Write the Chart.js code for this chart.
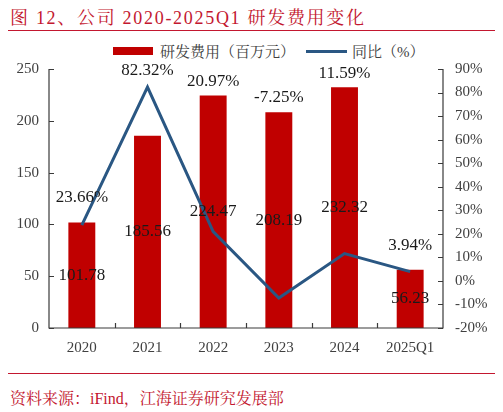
<!DOCTYPE html>
<html>
<head>
<meta charset="utf-8">
<script src="https://cdn.jsdelivr.net/npm/chart.js@4"></script>
<style>
  html, body { margin: 0; padding: 0; background: #fff; }
  body { width: 503px; height: 412px; position: relative; overflow: hidden;
         font-family: "Liberation Serif", "Noto Serif CJK SC", "Noto Sans CJK SC", serif; }
  .title { position: absolute; left: 10px; top: 3px; font-size: 18px; color: #c3172f; letter-spacing: 1.7px; white-space: nowrap; }
  .rule { position: absolute; left: 8px; width: 487px; height: 1px; background: #c3172f; }
  .source { position: absolute; left: 10px; top: 386px; font-size: 16px; color: #c3172f; white-space: nowrap; }
  .legend { position: absolute; top: 42px; left: 0; height: 20px; font-size: 15px; color: #404040; }
  .legend span { position: absolute; white-space: nowrap; }
  #wrap { position: absolute; left: 0; top: 40px; width: 503px; height: 322px; }
</style>
</head>
<body>
<div class="title">图 12、公司 2020-2025Q1 研发费用变化</div>
<div class="rule" style="top:30px"></div>
<div class="legend">
  <span style="left:113px;top:5px;width:40px;height:8px;background:#c00000"></span>
  <span style="left:160px;top:-2px">研发费用（百万元）</span>
  <span style="left:306px;top:8px;width:41px;height:3px;background:#2a5783"></span>
  <span style="left:352px;top:-2px">同比（%）</span>
</div>
<div id="wrap"><canvas id="rdChart"></canvas></div>
<div class="rule" style="top:373px"></div>
<div class="source">资料来源：iFind，江海证券研究发展部</div>

<script>
const years = ['2020', '2021', '2022', '2023', '2024', '2025Q1'];
const rdExpense = [101.78, 185.56, 224.47, 208.19, 232.32, 56.23]; // 百万元
const yoyGrowth = [23.66, 82.32, 20.97, -7.25, 11.59, 3.94];     // %
const leftTicks = [0, 50, 100, 150, 200, 250];
const rightTicks = [-20, -10, 0, 10, 20, 30, 40, 50, 60, 70, 80, 90];

// gap above the higher of bar top / line point for the % labels
const pctLabelGap = [25, 17, 14, 15, 14, 24];

const serif = '"Liberation Serif", "Times New Roman", serif';
const axisColor = '#3a3a3a';

// axis lines + inward tick marks + value labels
const decor = {
  id: 'decor',
  afterDatasetsDraw(chart) {
    const c = chart.ctx;
    const area = chart.chartArea;
    const x = chart.scales.x, y = chart.scales.y, y1 = chart.scales.y1;
    c.save();
    c.strokeStyle = axisColor;
    c.lineWidth = 1.2;
    c.beginPath();
    c.moveTo(area.left, area.top); c.lineTo(area.left, area.bottom);
    c.lineTo(area.right, area.bottom); c.lineTo(area.right, area.top);
    leftTicks.forEach(v => {
      const py = Math.round(y.getPixelForValue(v)) + 0.5;
      c.moveTo(area.left, py); c.lineTo(area.left + 5, py);
    });
    rightTicks.forEach(v => {
      const py = Math.round(y1.getPixelForValue(v)) + 0.5;
      c.moveTo(area.right, py); c.lineTo(area.right - 5, py);
    });
    for (let i = 1; i < years.length; i++) {
      const px = Math.round((x.getPixelForValue(i - 1) + x.getPixelForValue(i)) / 2) + 0.5;
      c.moveTo(px, area.bottom); c.lineTo(px, area.bottom - 5);
    }
    c.stroke();

    c.fillStyle = '#1a1a1a';
    c.font = '17px ' + serif;
    c.textAlign = 'center';
    c.textBaseline = 'middle';
    rdExpense.forEach((v, i) => {
      const px = x.getPixelForValue(i);
      const top = y.getPixelForValue(v);
      c.fillText(v.toFixed(2), px, (top + y.getPixelForValue(0)) / 2);
    });
    yoyGrowth.forEach((v, i) => {
      const px = x.getPixelForValue(i);
      const hi = Math.min(y.getPixelForValue(rdExpense[i]), y1.getPixelForValue(v));
      c.fillText(v.toFixed(2) + '%', px, hi - pctLabelGap[i]);
    });
    c.restore();
  }
};

new Chart(document.getElementById('rdChart'), {
  type: 'bar',
  data: {
    labels: years,
    datasets: [
      {
        type: 'line',
        label: '同比（%）',
        data: yoyGrowth,
        yAxisID: 'y1',
        borderColor: '#2a5783',
        borderWidth: 3,
        pointRadius: 0,
        tension: 0,
        order: 0
      },
      {
        type: 'bar',
        label: '研发费用（百万元）',
        data: rdExpense,
        yAxisID: 'y',
        backgroundColor: '#c00000',
        barPercentage: 0.41,
        categoryPercentage: 1,
        order: 1
      }
    ]
  },
  options: {
    responsive: true,
    maintainAspectRatio: false,
    animation: false,
    layout: { padding: { top: 29, bottom: 0, left: 0, right: 0 } },
    plugins: { legend: { display: false }, tooltip: { enabled: false } },
    scales: {
      x: {
        grid: { display: false, drawTicks: false },
        border: { display: false },
        ticks: { color: '#404040', font: { family: serif, size: 15 }, padding: 11, maxRotation: 0 },
        afterFit(s) { s.height = 34; }
      },
      y: {
        position: 'left',
        min: 0, max: 250,
        grid: { display: false, drawTicks: false },
        border: { display: false },
        ticks: { stepSize: 50, color: '#404040', font: { family: serif, size: 15 }, padding: 10 },
        afterFit(s) { s.width = 49; }
      },
      y1: {
        position: 'right',
        min: -20, max: 90,
        grid: { display: false, drawTicks: false },
        border: { display: false },
        ticks: { stepSize: 10, color: '#404040', font: { family: serif, size: 15 }, padding: 12,
                 callback: v => v + '%' },
        afterFit(s) { s.width = 60; }
      }
    }
  },
  plugins: [decor]
});
</script>
</body>
</html>
